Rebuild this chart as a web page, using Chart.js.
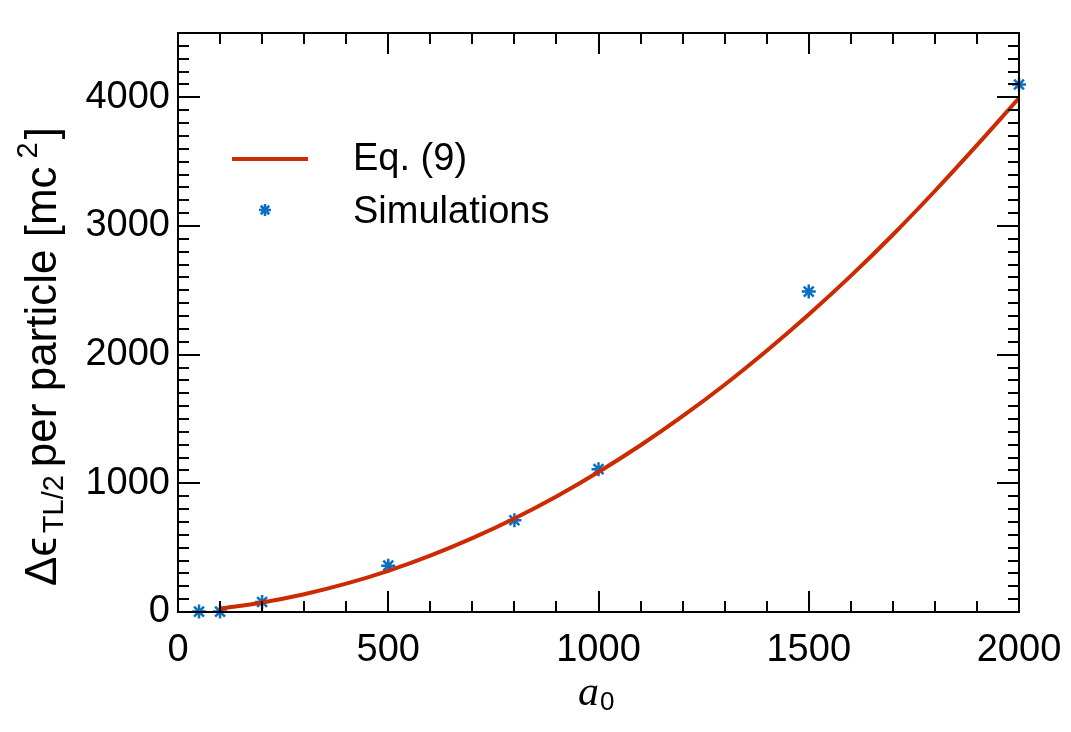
<!DOCTYPE html>
<html>
<head>
<meta charset="utf-8">
<script src="https://cdn.jsdelivr.net/npm/chart.js@4"></script>
<style>
  html, body { margin: 0; padding: 0; background: #fff; }
  #wrap { width: 1071px; height: 732px; }
</style>
</head>
<body>
<div id="wrap"><canvas id="chart" width="1071" height="732"></canvas></div>
<script>
// Eq. (9) curve
const curveX = [100, 200, 300, 400, 500, 600, 700, 800, 900, 1000, 1100, 1200, 1300, 1400, 1500, 1600, 1700, 1800, 1900, 2000];
const curveY = [27, 74, 138, 220, 320, 438, 574, 727, 898, 1088, 1296, 1522, 1766, 2030, 2312, 2612, 2932, 3272, 3628, 3995];

// simulation points
const simX = [50, 100, 200, 500, 800, 1000, 1500, 2000];
const simY = [3, 3, 78, 360, 713, 1110, 2490, 4100];

const xTicks = [0, 500, 1000, 1500, 2000];
const yTicks = [0, 1000, 2000, 3000, 4000];

const FONT = '"Liberation Sans", Arial, Helvetica, sans-serif';
const RED = "#cc2a00";
const BLUE = "#0a6fc2";

// frame, inward ticks, legend and axis titles
const decor = {
  id: "decor",
  afterDraw(chart) {
    const ctx = chart.ctx;
    const a = chart.chartArea;
    const xs = chart.scales.x, ys = chart.scales.y;
    ctx.save();
    ctx.strokeStyle = "#000";
    ctx.lineWidth = 2;
    ctx.strokeRect(a.left, a.top, a.right - a.left, a.bottom - a.top);

    ctx.beginPath();
    for (let v = 0; v <= 2000; v += 100) {
      const px = Math.round(xs.getPixelForValue(v));
      const len = v % 500 === 0 ? 21 : 11;
      ctx.moveTo(px, a.bottom); ctx.lineTo(px, a.bottom - len);
      ctx.moveTo(px, a.top); ctx.lineTo(px, a.top + len);
    }
    for (let v = 0; v <= 4500; v += 100) {
      const py = Math.round(ys.getPixelForValue(v));
      const len = v % 1000 === 0 ? 22 : 11;
      ctx.moveTo(a.left, py); ctx.lineTo(a.left + len, py);
      ctx.moveTo(a.right, py); ctx.lineTo(a.right - len, py);
    }
    ctx.stroke();

    // legend
    ctx.strokeStyle = RED;
    ctx.lineWidth = 4;
    ctx.beginPath();
    ctx.moveTo(232, 159); ctx.lineTo(308, 159);
    ctx.stroke();
    ctx.strokeStyle = BLUE;
    ctx.lineWidth = 2.5;
    ctx.beginPath();
    const sx = 265, sy = 210, r = 6;
    for (let k = 0; k < 4; k++) {
      const ang = k * Math.PI / 4;
      ctx.moveTo(sx - r * Math.cos(ang), sy - r * Math.sin(ang));
      ctx.lineTo(sx + r * Math.cos(ang), sy + r * Math.sin(ang));
    }
    ctx.stroke();
    ctx.fillStyle = "#000";
    ctx.font = "38px " + FONT;
    ctx.textBaseline = "middle";
    ctx.textAlign = "left";
    ctx.fillText("Eq. (9)", 353, 160);
    ctx.fillText("Simulations", 353, 213);

    // x title
    ctx.textBaseline = "alphabetic";
    ctx.font = "italic 42px \"Liberation Serif\", \"Times New Roman\", serif";
    ctx.fillText("a", 578, 705);
    ctx.font = "26px " + FONT;
    ctx.fillText("0", 600, 710);

    // y title, rotated
    ctx.translate(56, 586);
    ctx.rotate(-Math.PI / 2);
    let x = 0;
    ctx.font = "44px " + FONT;
    ctx.fillText("Δϵ", x, 0);
    x += ctx.measureText("Δϵ").width + 4;
    ctx.font = "29px " + FONT;
    ctx.fillText("TL/2", x, 7);
    x += ctx.measureText("TL/2").width + 8;
    ctx.font = "44px " + FONT;
    ctx.fillText("per particle [mc", x, 0);
    x += ctx.measureText("per particle [mc").width + 8;
    ctx.font = "29px " + FONT;
    ctx.fillText("2", x, -19);
    x += ctx.measureText("2").width + 3;
    ctx.font = "44px " + FONT;
    ctx.fillText("]", x, 0);
    ctx.restore();
  }
};

new Chart(document.getElementById("chart"), {
  data: {
    datasets: [
      {
        type: "scatter",
        label: "Simulations",
        data: simX.map((v, i) => ({ x: v, y: simY[i] })),
        pointStyle: "star",
        pointRadius: 7,
        pointBorderWidth: 2.5,
        borderColor: BLUE,
        backgroundColor: BLUE,
        clip: false,
        order: 2
      },
      {
        type: "line",
        label: "Eq. (9)",
        data: curveX.map((v, i) => ({ x: v, y: curveY[i] })),
        borderColor: RED,
        borderWidth: 4,
        pointRadius: 0,
        tension: 0.4,
        fill: false,
        order: 1
      }
    ]
  },
  options: {
    responsive: false,
    animation: false,
    events: [],
    layout: { padding: { left: 0, right: 52, top: 33, bottom: 0 } },
    plugins: {
      legend: { display: false },
      tooltip: { enabled: false }
    },
    scales: {
      x: {
        type: "linear",
        min: 0,
        max: 2000,
        grid: { display: false, drawTicks: false },
        border: { display: false },
        afterBuildTicks: (s) => { s.ticks = xTicks.map((v) => ({ value: v })); },
        afterFit: (s) => { s.height = 120; s.paddingLeft = 0; s.paddingRight = 0; },
        ticks: { color: "#000", font: { family: FONT, size: 38 }, padding: 16, maxRotation: 0, callback: (v) => String(v) }
      },
      y: {
        type: "linear",
        min: 0,
        max: 4500,
        grid: { display: false, drawTicks: false },
        border: { display: false },
        afterBuildTicks: (s) => { s.ticks = yTicks.map((v) => ({ value: v })); },
        afterFit: (s) => { s.width = 178; s.paddingTop = 0; s.paddingBottom = 0; },
        ticks: { color: "#000", font: { family: FONT, size: 38 }, padding: 8, callback: (v) => String(v) }
      }
    }
  },
  plugins: [decor]
});
</script>
</body>
</html>
